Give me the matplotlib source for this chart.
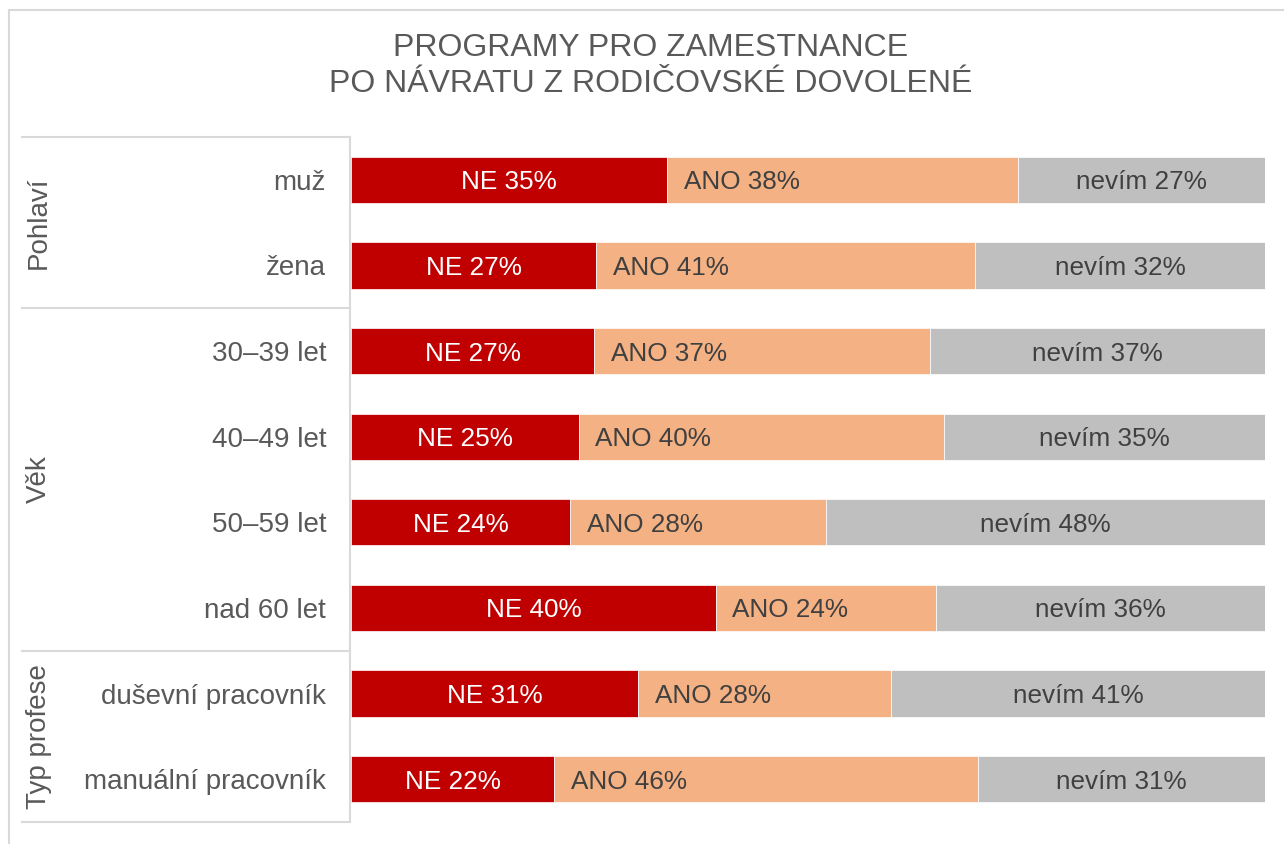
import matplotlib.pyplot as plt
from matplotlib.patches import Rectangle
from matplotlib.lines import Line2D
import matplotlib.transforms as mtransforms

plt.rcParams['font.family'] = ['Liberation Sans', 'DejaVu Sans']

# data (shares in %, each row sums to 100)
categories = ['muž', 'žena', '30–39 let', '40–49 let', '50–59 let',
              'nad 60 let', 'duševní pracovník', 'manuální pracovník']
ne = [34.6, 26.8, 26.6, 24.9, 24.0, 39.9, 31.4, 22.2]
ano = [38.4, 41.4, 36.7, 40.0, 27.9, 24.1, 27.7, 46.4]
nevim = [27.0, 31.8, 36.7, 35.1, 48.1, 36.0, 40.9, 31.4]
groups = ['Pohlaví', 'Věk', 'Typ profese']
group_rows = [(0, 1), (2, 5), (6, 7)]

title = 'PROGRAMY PRO ZAMESTNANCE\nPO NÁVRATU Z RODIČOVSKÉ DOVOLENÉ'

c_ne = '#C00000'
c_ano = '#F4B183'
c_nevim = '#BFBFBF'
c_text = '#595959'
c_lab = '#404040'
c_line = '#D9D9D9'

W, H = 1284, 844
fig = plt.figure(figsize=(W / 100, H / 100), dpi=100)
fig.patch.set_facecolor('white')

# outer frame
fig.add_artist(Rectangle((9 / W, -0.1), 1.2, 1.1 - 10.5 / H, transform=fig.transFigure,
                         fill=False, edgecolor=c_line, lw=1.5))

ax = fig.add_axes([351 / W, 22 / H, 914.3 / W, 685 / H])
y = list(range(len(categories)))
h = 0.54
ax.barh(y, ne, height=h, color=c_ne, edgecolor='white', linewidth=0.5)
left2 = [a for a in ne]
ax.barh(y, ano, left=left2, height=h, color=c_ano, edgecolor='white', linewidth=0.5)
left3 = [a + b for a, b in zip(ne, ano)]
ax.barh(y, nevim, left=left3, height=h, color=c_nevim, edgecolor='white', linewidth=0.5)

fs = 18.8
fs_cat = 20
for i in y:
    ax.text(ne[i] / 2, i, f'NE {ne[i]:.0f}%', ha='center', va='center_baseline',
            color='white', fontsize=fs)
    ax.annotate(f'ANO {ano[i]:.0f}%', (left2[i], i), xytext=(12, 0),
                textcoords='offset points', ha='left', va='center_baseline',
                color=c_lab, fontsize=fs)
    ax.text(left3[i] + nevim[i] / 2, i, f'nevím {nevim[i]:.0f}%', ha='center',
            va='center_baseline', color=c_lab, fontsize=fs)

ax.set_xlim(0, sum([ne[0], ano[0], nevim[0]]))
ax.set_ylim(len(categories) - 0.5, -0.5)
ax.set_yticks(y)
ax.set_yticklabels(categories, fontsize=fs_cat, color=c_text)
ax.tick_params(axis='y', length=0, pad=18)
ax.set_xticks([])
for s in ax.spines.values():
    s.set_visible(False)

# group brackets: x in figure fraction, y in data
tr = mtransforms.blended_transform_factory(fig.transFigure, ax.transData)
bounds = [-0.5] + [g[1] + 0.5 for g in group_rows]
for b in bounds:
    fig.add_artist(Line2D([22 / W, 350 / W], [b, b], transform=tr, color=c_line, lw=1.5))
fig.add_artist(Line2D([350 / W, 350 / W], [bounds[0], bounds[-1]], transform=tr,
                      color=c_line, lw=1.5))
for g, (a, b) in zip(groups, group_rows):
    fig.text(39 / W, (a + b) / 2, g, transform=tr, rotation=90, ha='center',
             va='center', fontsize=fs_cat, color=c_text)

fig.text(651 / W, 1 - 66 / H, title, ha='center', va='center', fontsize=23,
         color=c_text, linespacing=1.23)

fig.savefig('out.png', dpi=100)
